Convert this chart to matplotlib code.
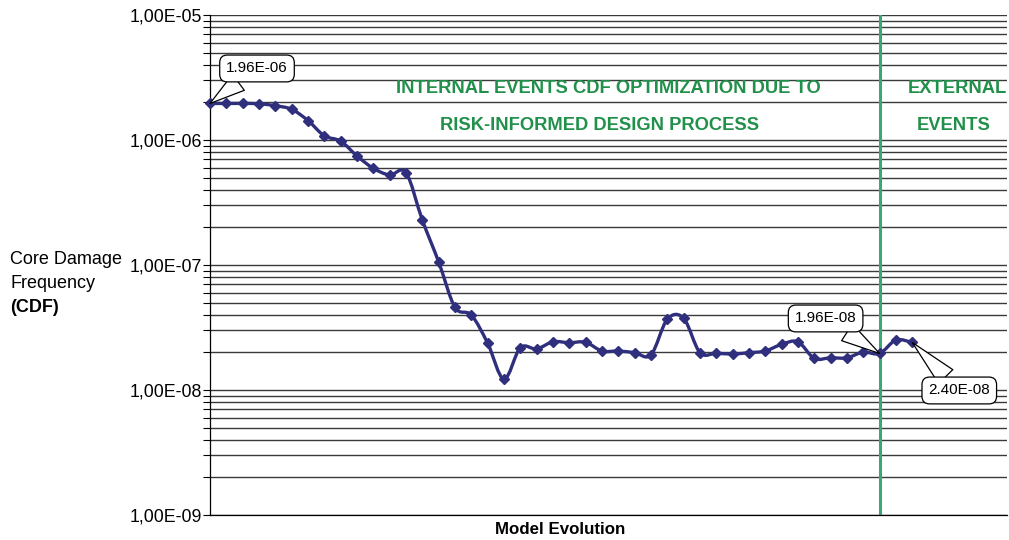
import numpy as np
import matplotlib
matplotlib.use("Agg")
import matplotlib.pyplot as plt
from matplotlib.path import Path
from matplotlib.patches import PathPatch
from matplotlib.ticker import FixedLocator, LogLocator, FuncFormatter, NullFormatter

plt.rcParams["font.family"] = ["Liberation Sans", "DejaVu Sans"]

# ── data ──────────────────────────────────────────────────────────
model_step = np.arange(44)
cdf = np.array([
    1.96e-6, 1.96e-6, 1.96e-6, 1.95e-6, 1.88e-6, 1.76e-6, 1.43e-6, 1.08e-6,
    9.8e-7, 7.45e-7, 5.94e-7, 5.25e-7, 5.48e-7, 2.29e-7, 1.06e-7, 4.59e-8,
    3.98e-8, 2.37e-8, 1.22e-8, 2.18e-8, 2.13e-8, 2.43e-8, 2.39e-8, 2.41e-8,
    2.05e-8, 2.05e-8, 1.99e-8, 1.91e-8, 3.68e-8, 3.75e-8, 1.99e-8, 1.97e-8,
    1.94e-8, 1.99e-8, 2.05e-8, 2.32e-8, 2.43e-8, 1.79e-8, 1.81e-8, 1.81e-8,
    2.01e-8, 1.96e-8, 2.51e-8, 2.40e-8,
])
y_major = [1e-9, 1e-8, 1e-7, 1e-6, 1e-5]
external_start = 41
callouts = [(0, "1.96E-06", (47, 35)), (41, "1.96E-08", (-54, 35)), (43, "2.40E-08", (47, -48))]

NAVY  = "#2F2F7D"
GREEN = "#21904A"
VLINE = "#3AA874"


def smooth_path(x, y):
    # Excel-like smoothed line: cubic bezier in (x, log10 y) space
    ly = np.log10(y)
    n = len(x)
    verts = [(x[0], y[0])]
    codes = [Path.MOVETO]
    for i in range(n - 1):
        ip, inx = max(i - 1, 0), min(i + 2, n - 1)
        c1x = x[i] + (x[i + 1] - x[ip]) / 6
        c1y = ly[i] + (ly[i + 1] - ly[ip]) / 6
        c2x = x[i + 1] - (x[inx] - x[i]) / 6
        c2y = ly[i + 1] - (ly[inx] - ly[i]) / 6
        verts += [(c1x, 10 ** c1y), (c2x, 10 ** c2y), (x[i + 1], y[i + 1])]
        codes += [Path.CURVE4] * 3
    return Path(verts, codes)


fig = plt.figure(figsize=(10.09, 5.40), dpi=100)
ax = fig.add_axes([210 / 1009, 1 - 515 / 540, 797 / 1009, 500 / 540])

ax.set_yscale("log")
ax.set_ylim(1e-9, 1e-5)
ax.set_xlim(0, 48.8)

ax.yaxis.set_major_locator(FixedLocator(y_major))
ax.yaxis.set_minor_locator(LogLocator(base=10, subs=np.arange(2, 10), numticks=20))
ax.yaxis.set_major_formatter(FuncFormatter(lambda v, p: f"{v:.2E}".replace(".", ",")))
ax.yaxis.set_minor_formatter(NullFormatter())
ax.grid(True, which="both", axis="y", color="#3a3a3a", lw=1.0)
ax.set_axisbelow(True)
ax.tick_params(axis="y", which="both", direction="out", length=5, width=0.8, labelsize=12.8, pad=1)
ax.set_xticks([])

for s in ["top", "right"]:
    ax.spines[s].set_visible(False)
ax.spines["left"].set_linewidth(0.9)
ax.spines["bottom"].set_linewidth(0.9)

ax.axvline(external_start, color=VLINE, lw=2.2, zorder=2)

ax.add_patch(PathPatch(smooth_path(model_step, cdf), fc="none", ec=NAVY, lw=2.4, zorder=3))
ax.plot(model_step, cdf, ls="none", marker="D", ms=5, color=NAVY, zorder=4, clip_on=False)

for idx, txt, off in callouts:
    ax.annotate(txt, xy=(model_step[idx], cdf[idx]), xytext=off, textcoords="offset pixels",
                ha="center", va="center", fontsize=11, zorder=6,
                bbox=dict(boxstyle="round,pad=0.42,rounding_size=0.5", fc="white", ec="black", lw=0.9),
                arrowprops=dict(arrowstyle="wedge,tail_width=1.3,shrink_factor=0.5",
                                fc="white", ec="black", lw=0.9, shrinkA=0, shrinkB=0))

txt_kw = dict(color=GREEN, fontsize=13.2, fontweight="bold", ha="center", va="center")
fig.text(608 / 1009, 1 - 89 / 540, "INTERNAL EVENTS CDF OPTIMIZATION DUE TO", **txt_kw)
fig.text(600 / 1009, 1 - 125 / 540, "RISK-INFORMED DESIGN PROCESS", **txt_kw)
fig.text(957 / 1009, 1 - 89 / 540, "EXTERNAL", **txt_kw)
fig.text(954 / 1009, 1 - 125 / 540, "EVENTS", **txt_kw)

fig.text(10 / 1009, 1 - 260 / 540, "Core Damage", fontsize=13, va="center", ha="left")
fig.text(10 / 1009, 1 - 283 / 540, "Frequency", fontsize=13, va="center", ha="left")
fig.text(10 / 1009, 1 - 307 / 540, "(CDF)", fontsize=13, fontweight="bold", va="center", ha="left")
fig.text(560 / 1009, 1 - 530 / 540, "Model Evolution", fontsize=12.2, fontweight="bold", va="center", ha="center")

fig.savefig("out.png", dpi=100)
